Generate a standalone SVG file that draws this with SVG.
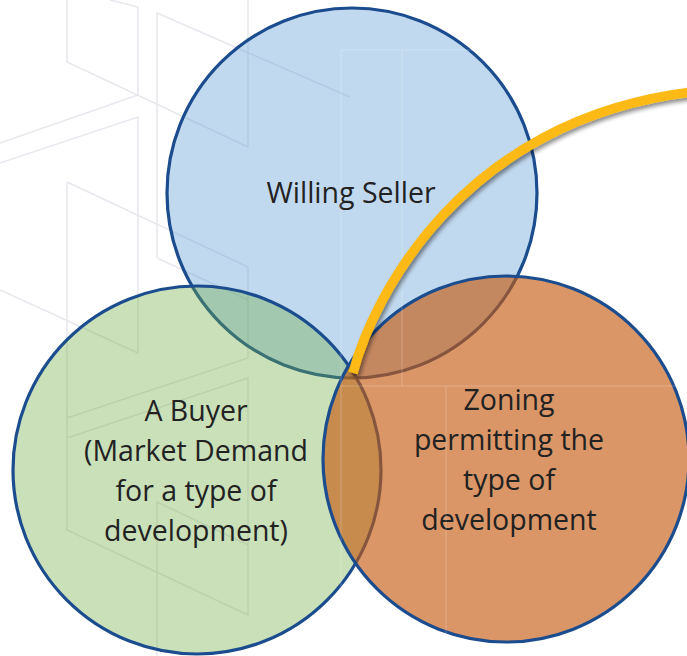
<svg xmlns="http://www.w3.org/2000/svg" width="687" height="656" viewBox="0 0 687 656">
  <defs>
    <style>
      .bg { fill: none; stroke: #E7E8ED; stroke-width: 1.5; stroke-linejoin: miter; }
      .grid { fill: none; stroke: #FFFFFF; stroke-opacity: 0.22; stroke-width: 1; }
      .node { stroke: #1B4C8E; stroke-width: 3.2; }
      .seller { fill: #5B9BD5; fill-opacity: 0.38; }
      .buyer { fill: #70AD47; fill-opacity: 0.38; }
      .zoning { fill: #C55A11; fill-opacity: 0.64; }
      .label { font-family: "Open Sans", "Noto Sans", "Liberation Sans", sans-serif; font-size: 28.5px; fill: #222222; text-anchor: middle; }
      .arc { fill: none; stroke: #FDBA13; stroke-width: 9.5; stroke-linecap: butt; }
    </style>
    <filter id="shadow" x="-10%" y="-10%" width="130%" height="130%">
      <feDropShadow dx="2" dy="3" stdDeviation="2" flood-color="#000000" flood-opacity="0.45"/>
    </filter>
  </defs>

  <rect width="687" height="656" fill="#FFFFFF"/>

  <g id="background">
    <path class="bg" d="M67,0 V62 L248,147"/>
    <path class="bg" d="M248,0 V147"/>
    <path class="bg" d="M110,0 L138,7 V95 L0,143"/>
    <path class="bg" d="M0,163 L138,117 V353 L0,290"/>
    <path class="bg" d="M157,258 V13 L350,97"/>
    <path class="bg" d="M157,258 L248,300"/>
    <path class="bg" d="M67,182 L248,267 V358 L67,418"/>
    <path class="bg" d="M67,182 V530 L248,615 V378 L67,438"/>
    <path class="bg" d="M157,656 V502 L248,545"/>
  </g>

  <g id="seller">
    <circle class="node seller" cx="352" cy="193" r="185"/>
    <text class="label" x="351" y="203">Willing Seller</text>
  </g>

  <g id="buyer">
    <circle class="node buyer" cx="197" cy="470" r="184"/>
    <text class="label" x="196" y="421">A Buyer</text>
    <text class="label" x="196" y="461">(Market Demand</text>
    <text class="label" x="196" y="501">for a type of</text>
    <text class="label" x="196" y="541">development)</text>
  </g>

  <g id="zoning">
    <circle class="node zoning" cx="506" cy="459" r="183"/>
    <text class="label" x="509" y="410">Zoning</text>
    <text class="label" x="509" y="450">permitting the</text>
    <text class="label" x="509" y="490">type of</text>
    <text class="label" x="509" y="530">development</text>
  </g>

  <g id="grid-overlay">
    <path class="grid" d="M341,50 V656 M341,50 H687 M341,386 H687 M402,50 V386 M446,386 V656"/>
  </g>

  <g id="connectors">
    <path class="arc" filter="url(#shadow)" d="M353,373 C372,300 460,120 692,92"/>
  </g>
</svg>
